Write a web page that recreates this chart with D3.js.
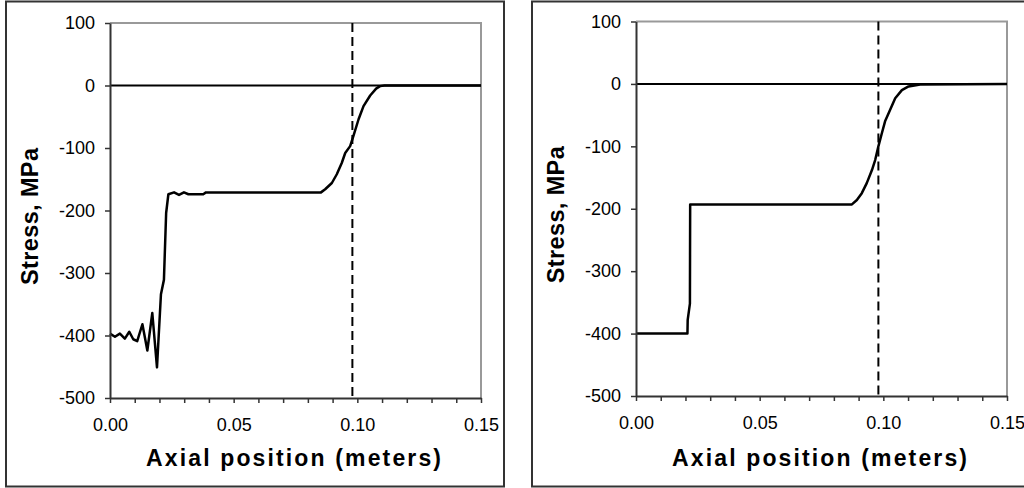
<!DOCTYPE html>
<html>
<head>
<meta charset="utf-8">
<script src="https://cdn.jsdelivr.net/npm/d3@7"></script>
<style>
  html, body { margin: 0; padding: 0; background: #fff; }
  svg { display: block; font-family: "Liberation Sans", Arial, sans-serif; }
</style>
</head>
<body>
<svg id="chart" width="1024" height="488"></svg>
<script>
// Axial stress profiles (MPa) along the specimen (m)
const xTickValues = [0.00, 0.01, 0.02, 0.03, 0.04, 0.05, 0.06, 0.07, 0.08, 0.09, 0.10, 0.11, 0.12, 0.13, 0.14, 0.15];
const xTickLabels = ["0.00", "", "", "", "", "0.05", "", "", "", "", "0.10", "", "", "", "", "0.15"];
const yTickValues = [-500, -400, -300, -200, -100, 0, 100];
const yTickLabels = ["-500", "-400", "-300", "-200", "-100", "0", "100"];

const xTitle = "Axial position (meters)";
const yTitle = "Stress, MPa";

// Position of the dashed marker line
const boundaryX = 0.098;

// Left profile
const leftX = [0.000, 0.002, 0.004, 0.006, 0.0078, 0.0094, 0.011, 0.0131, 0.0151, 0.0171, 0.019,
  0.0206, 0.0218, 0.0227, 0.0236, 0.0259, 0.0279, 0.0299, 0.0317, 0.0377, 0.0388,
  0.0853, 0.087, 0.0897, 0.0917, 0.0937, 0.0951, 0.0971, 0.0984, 0.1005, 0.1025,
  0.1052, 0.1076, 0.1092, 0.111, 0.150];
const leftStress = [-397, -402, -397, -405, -394, -406, -409, -382, -424, -364, -451,
  -334, -311, -204, -174, -171, -175, -171, -174, -174, -171,
  -171, -166, -156, -142, -124, -108, -97, -81, -54, -33,
  -16, -5, -1, 0, 0];

// Right profile
const rightX = [0.000, 0.0208, 0.0209, 0.0218, 0.0219, 0.0873, 0.0893, 0.0913, 0.0933, 0.0954,
  0.0967, 0.098, 0.0994, 0.1007, 0.1028, 0.1048, 0.1075, 0.1102, 0.1149, 0.150];
const rightStress = [-400, -400, -378, -352, -193, -193, -186, -175, -159, -138,
  -122, -100, -79, -60, -41, -23, -10, -4, -1, 0];

const panels = [
  { frame: [6, 1.5, 498, 485], plot: { left: 110, right: 481, top: 23, bottom: 398 }, xs: leftX, ys: leftStress },
  { frame: [532, 1.5, 498, 485], plot: { left: 636, right: 1007, top: 21.5, bottom: 396 }, xs: rightX, ys: rightStress }
];

const svg = d3.select("#chart");

panels.forEach(p => {
  const g = svg.append("g");
  const { left, right, top, bottom } = p.plot;

  // outer frame
  g.append("rect")
    .attr("x", p.frame[0]).attr("y", p.frame[1])
    .attr("width", p.frame[2]).attr("height", p.frame[3])
    .attr("fill", "none").attr("stroke", "#333").attr("stroke-width", 2);

  const x = d3.scaleLinear().domain([0, 0.15]).range([left, right]);
  const y = d3.scaleLinear().domain([-500, 100]).range([bottom, top]);

  // plot area top/right border
  g.append("path")
    .attr("d", `M${x(0)},${y(100)}H${x(0.15)}V${y(-500)}`)
    .attr("fill", "none").attr("stroke", "#999").attr("stroke-width", 2);

  // zero reference line
  g.append("line")
    .attr("x1", x(0)).attr("x2", x(0.15))
    .attr("y1", y(0)).attr("y2", y(0))
    .attr("stroke", "#000").attr("stroke-width", 2);

  // dashed marker
  g.append("line")
    .attr("x1", x(boundaryX)).attr("x2", x(boundaryX))
    .attr("y1", y(100)).attr("y2", y(-500))
    .attr("stroke", "#000").attr("stroke-width", 2)
    .attr("stroke-dasharray", "9,5");

  // stress profile
  const line = d3.line().x(i => x(p.xs[i])).y(i => y(p.ys[i]));
  g.append("path")
    .attr("d", line(d3.range(p.xs.length)))
    .attr("fill", "none").attr("stroke", "#000")
    .attr("stroke-width", 2.5).attr("stroke-linejoin", "round");

  // axes
  const xAxis = d3.axisBottom(x)
    .tickValues(xTickValues)
    .tickFormat((d, i) => xTickLabels[i])
    .tickSize(5).tickSizeOuter(0).tickPadding(15);
  const yAxis = d3.axisLeft(y)
    .tickValues(yTickValues)
    .tickFormat((d, i) => yTickLabels[i])
    .tickSize(5).tickSizeOuter(0).tickPadding(10);

  const gx = g.append("g").attr("transform", `translate(0,${bottom})`).call(xAxis);
  const gy = g.append("g").attr("transform", `translate(${left},0)`).call(yAxis);

  [gx, gy].forEach(a => {
    a.select(".domain").attr("stroke", "#333").attr("stroke-width", 2);
    a.selectAll(".tick line").attr("stroke", "#333").attr("stroke-width", 1.5);
    a.selectAll(".tick text")
      .attr("fill", "#000")
      .style("font-family", "'Liberation Sans', Arial, sans-serif")
      .style("font-size", "18px");
  });

  // axis titles
  g.append("text")
    .attr("x", (left + right) / 2 - 2)
    .attr("y", 466)
    .attr("text-anchor", "middle")
    .attr("textLength", 295).attr("lengthAdjust", "spacing")
    .style("font-size", "23px").style("font-weight", "bold")
    .text(xTitle);

  g.append("text")
    .attr("transform", `translate(${left - 72},${(top + bottom) / 2 + 6}) rotate(-90)`)
    .attr("text-anchor", "middle")
    .attr("textLength", 137).attr("lengthAdjust", "spacing")
    .style("font-size", "23.5px").style("font-weight", "bold")
    .text(yTitle);
});
</script>
</body>
</html>
